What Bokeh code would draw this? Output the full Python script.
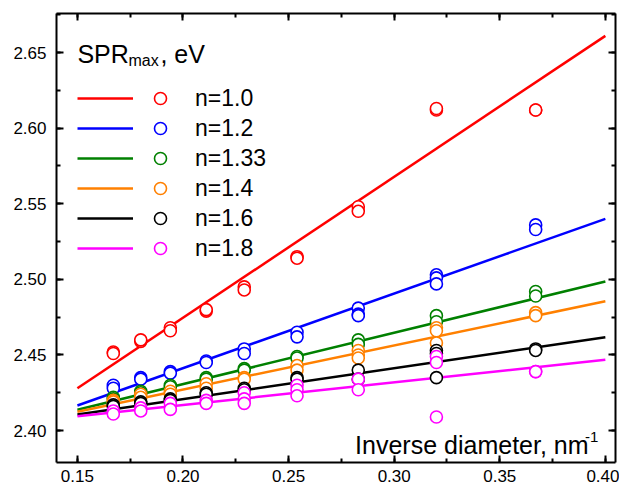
from bokeh.plotting import figure
from bokeh.models import (Range1d, LinearAxis, SingleIntervalTicker, NumeralTickFormatter,
                          CustomJSTickFormatter, Legend, LegendItem, Label, ColumnDataSource)
from bokeh.embed import file_html
from bokeh.resources import INLINE

# ---------------- data ----------------
inv_d = [0.167, 0.180, 0.194, 0.211, 0.229, 0.254, 0.283, 0.320, 0.367]

labels = ["n=1.0", "n=1.2", "n=1.33", "n=1.4", "n=1.6", "n=1.8"]
colors = ["#FF0000", "#0000FF", "#008000", "#FF8000", "#000000", "#FF00FF"]

spr_n10 = [[2.452, 2.451], [2.459, 2.460], [2.468, 2.466], [2.479, 2.480], [2.495, 2.493],
           [2.515, 2.514], [2.548, 2.545], [2.612, 2.613], [2.612, 2.612]]
spr_n12 = [[2.430, 2.428], [2.435, 2.434], [2.439, 2.438], [2.446, 2.445], [2.454, 2.451],
           [2.465, 2.462], [2.481, 2.477, 2.476], [2.503, 2.501, 2.497], [2.536, 2.533]]
spr_n133 = [[2.422, 2.421], [2.426, 2.425], [2.430, 2.429], [2.435, 2.434], [2.441, 2.440],
            [2.449, 2.448], [2.460, 2.457], [2.476, 2.472], [2.492, 2.489]]
spr_n14 = [[2.420, 2.419], [2.424, 2.422], [2.426, 2.424], [2.431, 2.428], [2.435, 2.434],
           [2.443, 2.440], [2.453, 2.450, 2.448], [2.468, 2.466, 2.458], [2.478, 2.476]]
spr_n16 = [[2.417, 2.416], [2.419, 2.418], [2.421, 2.420], [2.425, 2.424], [2.428, 2.427],
           [2.435, 2.434], [2.440, 2.434], [2.453, 2.451, 2.435], [2.454, 2.453]]
spr_n18 = [[2.413, 2.411], [2.415, 2.413], [2.418, 2.414], [2.420, 2.418], [2.425, 2.421, 2.418],
           [2.430, 2.427, 2.423], [2.434, 2.427], [2.449, 2.445, 2.409], [2.439, 2.439]]
series = [spr_n10, spr_n12, spr_n133, spr_n14, spr_n16, spr_n18]

fit_x = [0.15, 0.40]
fit_n10 = [2.428, 2.661]
fit_n12 = [2.4166, 2.540]
fit_n133 = [2.4138, 2.4986]
fit_n14 = [2.4125, 2.4855]
fit_n16 = [2.4106, 2.4617]
fit_n18 = [2.4095, 2.4468]
fits = [fit_n10, fit_n12, fit_n133, fit_n14, fit_n16, fit_n18]

# ---------------- figure ----------------
FONT = "Liberation Sans"
p = figure(width=619, height=487, output_backend="svg", toolbar_location=None,
           x_range=Range1d(0.1401, 0.4048), y_range=Range1d(2.3789, 2.6758),
           min_border_left=56, min_border_right=4, min_border_top=13, min_border_bottom=25,
           x_axis_type=None, y_axis_type=None)
p.grid.visible = False
p.outline_line_color = None
p.background_fill_color = "white"
p.border_fill_color = "white"


def style_axis(ax, show_labels):
    ax.ticker = SingleIntervalTicker(interval=0.05, num_minor_ticks=2)
    ax.axis_line_width = 2
    ax.axis_line_color = "black"
    ax.major_tick_in = 7
    ax.major_tick_out = 0
    ax.minor_tick_in = 4
    ax.minor_tick_out = 0
    ax.major_tick_line_width = 2
    ax.minor_tick_line_width = 2
    ax.major_tick_line_color = "black"
    ax.minor_tick_line_color = "black"
    if show_labels:
        ax.formatter = NumeralTickFormatter(format="0.00")
        ax.major_label_text_font = FONT
        ax.major_label_text_font_size = "17px"
        ax.major_label_text_color = "black"
    else:
        ax.formatter = CustomJSTickFormatter(code="return ''")
        ax.major_label_standoff = 0


bottom = LinearAxis()
style_axis(bottom, True)
bottom.major_label_standoff = 7
left = LinearAxis()
style_axis(left, True)
left.major_label_standoff = 10
top = LinearAxis()
style_axis(top, False)
right = LinearAxis()
style_axis(right, False)
p.add_layout(bottom, "below")
p.add_layout(left, "left")
p.add_layout(top, "above")
p.add_layout(right, "right")

line_renderers = []
for fy, c in zip(fits, colors):
    r = p.line(fit_x, fy, line_color=c, line_width=2.5)
    line_renderers.append(r)

pt_renderers = []
for s, c in zip(series, colors):
    xs, ys = [], []
    for xv, group in zip(inv_d, s):
        for yv in group:
            xs.append(xv)
            ys.append(yv)
    src = ColumnDataSource(dict(x=xs, y=ys))
    r = p.scatter("x", "y", source=src, marker="circle", size=12, fill_color="white",
                  line_color=c, line_width=1.6)
    pt_renderers.append(r)

legA = Legend(items=[LegendItem(label=" ", renderers=[r]) for r in line_renderers],
              location=(21, 199), glyph_width=56, glyph_height=30, label_height=30,
              label_width=0, label_standoff=0, spacing=0, padding=0, margin=0,
              border_line_alpha=0, background_fill_alpha=0,
              label_text_font_size="23px", label_text_font=FONT)
legB = Legend(items=[LegendItem(label=l, renderers=[r]) for l, r in zip(labels, pt_renderers)],
              location=(89, 199), glyph_width=30, glyph_height=30, label_height=30,
              label_standoff=20, spacing=0, padding=0, margin=0,
              border_line_alpha=0, background_fill_alpha=0,
              label_text_font_size="23px", label_text_font=FONT, label_text_color="black")
p.add_layout(legA, "center")
p.add_layout(legB, "center")

# title
p.add_layout(Label(x=0.15, y=2.649, text="SPR", text_font=FONT, text_font_size="25px",
                   text_baseline="alphabetic", text_color="black"))
p.add_layout(Label(x=0.15, y=2.649, x_offset=51, y_offset=-6, text="max", text_font=FONT,
                   text_font_size="16px", text_baseline="alphabetic", text_color="black"))
p.add_layout(Label(x=0.15, y=2.649, x_offset=83, text=", eV", text_font=FONT,
                   text_font_size="25px", text_baseline="alphabetic", text_color="black"))

# x axis label inside plot
p.add_layout(Label(x=0.2815, y=2.3903, text="Inverse diameter, nm", text_font=FONT,
                   text_font_size="25px", text_baseline="alphabetic", text_color="black"))
p.add_layout(Label(x=0.2815, y=2.3903, x_offset=230, y_offset=8, text="-1", text_font=FONT,
                   text_font_size="15px", text_baseline="alphabetic", text_color="black"))

open("out.html", "w").write(file_html(p, INLINE))
